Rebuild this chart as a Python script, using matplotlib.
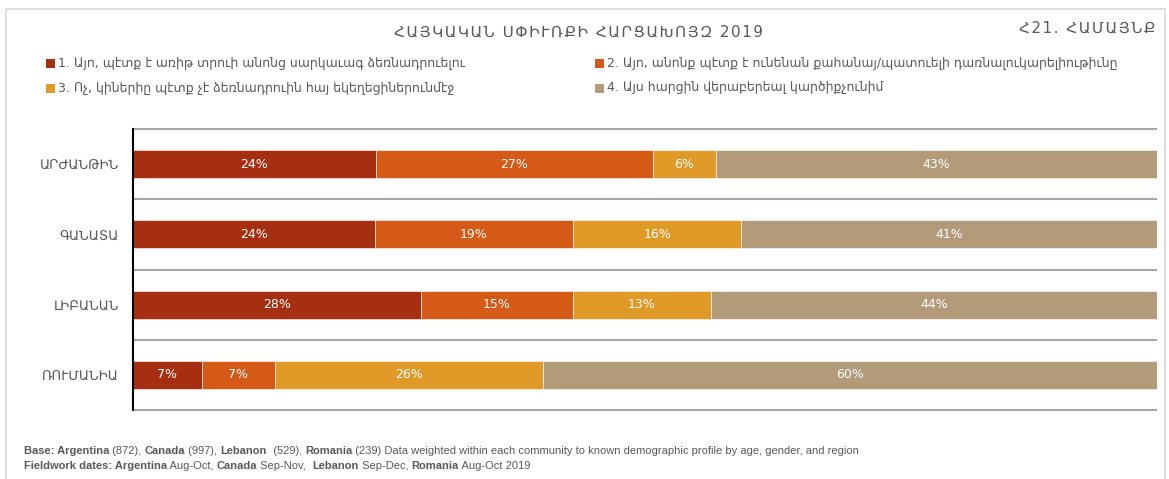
import numpy as np
import matplotlib
matplotlib.use('Agg')
import matplotlib.pyplot as plt
from matplotlib.patches import Rectangle
from matplotlib.text import Annotation

plt.rcParams['font.family'] = ['DejaVu Sans']

# data
countries = ['ԱՐԺԱՆԹԻՆ', 'ԳԱՆԱՏԱ', 'ԼԻԲԱՆԱՆ', 'ՌՈՒՄԱՆԻԱ']
answers = [
    '1. Այո, պէտք է առիթ տրուի անոնց սարկաւագ ձեռնադրուելու',
    '2. Այո, անոնք պէտք է ունենան քահանայ/պատուելի դառնալուկարելիութիւնը',
    '3. Ոչ, կիներիը պէտք չէ ձեռնադրուին հայ եկեղեցիներունմէջ',
    '4. Այս հարցին վերաբերեալ կարծիքչունիմ',
]
yes_deacon = [23.7, 23.6, 28.1, 6.7]
yes_priest = [27.1, 19.4, 14.9, 7.2]
no_women = [6.1, 16.4, 13.4, 26.1]
no_opinion = [43.1, 40.6, 43.6, 60.0]
colors = ['#A52F10', '#D55A17', '#E09A28', '#B39B7A']

title = 'ՀԱՅԿԱԿԱՆ ՍՓԻՒՌՔԻ ՀԱՐՑԱԽՈՅԶ 2019'
question = 'Հ21. ՀԱՄԱՅՆՔ'

footer_lines = [
    [('Base: Argentina', True), (' (872), ', False), ('Canada', True), (' (997), ', False),
     ('Lebanon', True), ('  (529), ', False), ('Romania', True),
     (' (239) Data weighted within each community to known demographic profile by age, gender, and region', False)],
    [('Fieldwork dates: Argentina', True), (' Aug-Oct, ', False), ('Canada', True), (' Sep-Nov,  ', False),
     ('Lebanon', True), (' Sep-Dec, ', False), ('Romania', True), (' Aug-Oct 2019', False)],
]

W, H = 1169, 479
fig = plt.figure(figsize=(W / 100, H / 100), dpi=100)
fig.patch.set_facecolor('white')

# outer frame
fig.patches.append(Rectangle((6 / W, -0.05), (1165 - 6) / W, 1.05 - 9 / H, transform=fig.transFigure,
                             fill=False, edgecolor='#d9d9d9', linewidth=1.2))

ax = fig.add_axes([133 / W, 1 - 410 / H, (1157 - 133) / W, (410 - 129) / H])

series = [yes_deacon, yes_priest, no_women, no_opinion]
y = np.arange(len(countries))
left = np.zeros(len(countries))
for vals, col in zip(series, colors):
    vals = np.array(vals)
    bars = ax.barh(y, vals, left=left, height=0.4, color=col, edgecolor='white', linewidth=0.4)
    for b, v in zip(bars, vals):
        ax.text(b.get_x() + b.get_width() / 2, b.get_y() + b.get_height() / 2, f'{v:.0f}%',
                ha='center', va='center', color='white', fontsize=9)
    left += vals

ax.set_xlim(0, 100)
ax.set_ylim(len(countries) - 0.5, -0.5)
ax.hlines(np.arange(-0.5, len(countries)), 0, 100, colors='#a6a6a6', linewidth=1.5, clip_on=False, zorder=0)
ax.set_yticks(y)
ax.set_yticklabels(countries, fontsize=9.5, color='#595959')
ax.tick_params(axis='y', length=0, pad=10)
ax.set_xticks([])
for s in ['top', 'right', 'bottom']:
    ax.spines[s].set_visible(False)
ax.spines['left'].set_color('black')
ax.spines['left'].set_linewidth(1.5)

# titles
fig.text(579 / W, 1 - 32 / H, '\u200a'.join(title), ha='center', va='center', fontsize=11, color='#595959')
fig.text(1155 / W, 1 - 28 / H, '\u200a'.join(question), ha='right', va='center', fontsize=11, color='#595959')

# legend
leg_pos = [(46, 63), (595, 63), (46, 88), (595, 88)]
for (lx, ly), lab, col in zip(leg_pos, answers, colors):
    fig.patches.append(Rectangle((lx / W, 1 - (ly + 4.5) / H), 9 / W, 9 / H, transform=fig.transFigure,
                                 facecolor=col, edgecolor='none'))
    fig.text((lx + 12) / W, 1 - ly / H, lab, ha='left', va='center', fontsize=9, color='#595959')

# footer, bold and plain pieces placed one after another
foot_font = ['Liberation Sans', 'DejaVu Sans']
for row, pieces in enumerate(footer_lines):
    prev = None
    for txt, bold in pieces:
        kw = dict(fontsize=8, color='#595959', family=foot_font, fontweight='bold' if bold else 'normal')
        if prev is None:
            prev = fig.text(24 / W, 1 - (451 + 15 * row) / H, txt, ha='left', va='center', **kw)
        else:
            ann = Annotation(txt, xy=(1, 0), xycoords=prev, ha='left', va='bottom', **kw)
            fig.add_artist(ann)
            prev = ann

fig.savefig('out.png', dpi=100)
